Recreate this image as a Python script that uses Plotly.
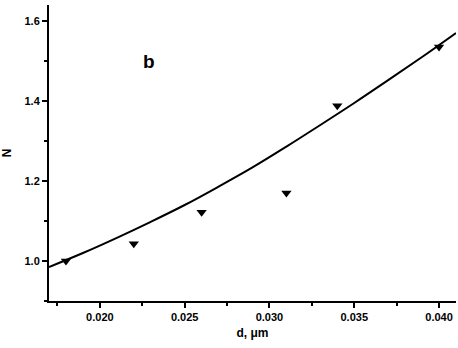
import plotly.graph_objects as go

# measured points
d_points = [0.018, 0.022, 0.026, 0.031, 0.034, 0.040]
n_points = [1.0, 1.043, 1.122, 1.17, 1.388, 1.535]

# fitted curve
d_fit = [0.017, 0.019, 0.021, 0.023, 0.025, 0.027, 0.029, 0.031, 0.033, 0.035, 0.037, 0.039, 0.041]
n_fit = [0.985, 1.02, 1.058, 1.098, 1.14, 1.186, 1.234, 1.286, 1.34, 1.395, 1.452, 1.51, 1.57]

x_ticks = [0.020, 0.025, 0.030, 0.035, 0.040]
y_ticks = [1.0, 1.2, 1.4, 1.6]

fig = go.Figure()
fig.add_trace(go.Scatter(
    x=d_fit, y=n_fit, mode='lines',
    line=dict(color='black', width=2, shape='spline', smoothing=1.0),
    showlegend=False,
))
fig.add_trace(go.Scatter(
    x=d_points, y=n_points, mode='markers',
    marker=dict(symbol='triangle-down', size=9, color='black'),
    showlegend=False,
))

fig.add_annotation(text='<b>b</b>', x=0.0229, y=1.5, xref='x', yref='y',
                   showarrow=False, font=dict(size=19, color='black'))

axis_font = dict(family='Liberation Sans', size=11, color='black', weight='bold')

fig.update_layout(
    width=458, height=348,
    margin=dict(l=46, r=2, t=5, b=47),
    paper_bgcolor='white', plot_bgcolor='white',
    font=dict(family='Liberation Sans', color='black'),
    xaxis=dict(
        range=[0.017, 0.041], tickvals=x_ticks, tickformat='.3f',
        showline=True, linecolor='black', linewidth=2, showgrid=False, zeroline=False,
        ticks='outside', ticklen=5, tickwidth=2, tickcolor='black',
        tickfont=axis_font,
        minor=dict(ticks='outside', ticklen=3, tickwidth=2, tickcolor='black',
                   tick0=0.0175, dtick=0.005),
        title=dict(text='<b>d, μm</b>', font=dict(size=12, family='Liberation Sans'),
                   standoff=6),
    ),
    yaxis=dict(
        range=[0.9, 1.64], tickvals=y_ticks, tickformat='.1f',
        showline=True, linecolor='black', linewidth=2, showgrid=False, zeroline=False,
        ticks='outside', ticklen=5, tickwidth=2, tickcolor='black',
        tickfont=axis_font,
        minor=dict(ticks='outside', ticklen=3, tickwidth=2, tickcolor='black',
                   tick0=1.1, dtick=0.2),
        title=dict(text='<b>N</b>', font=dict(size=12, family='Liberation Sans'),
                   standoff=14),
    ),
)

# drop the page's default body margin so the figure sits at the window corner
fig.write_html("out.html", config={'displayModeBar': False},
               post_script="document.body.style.margin='0';")
